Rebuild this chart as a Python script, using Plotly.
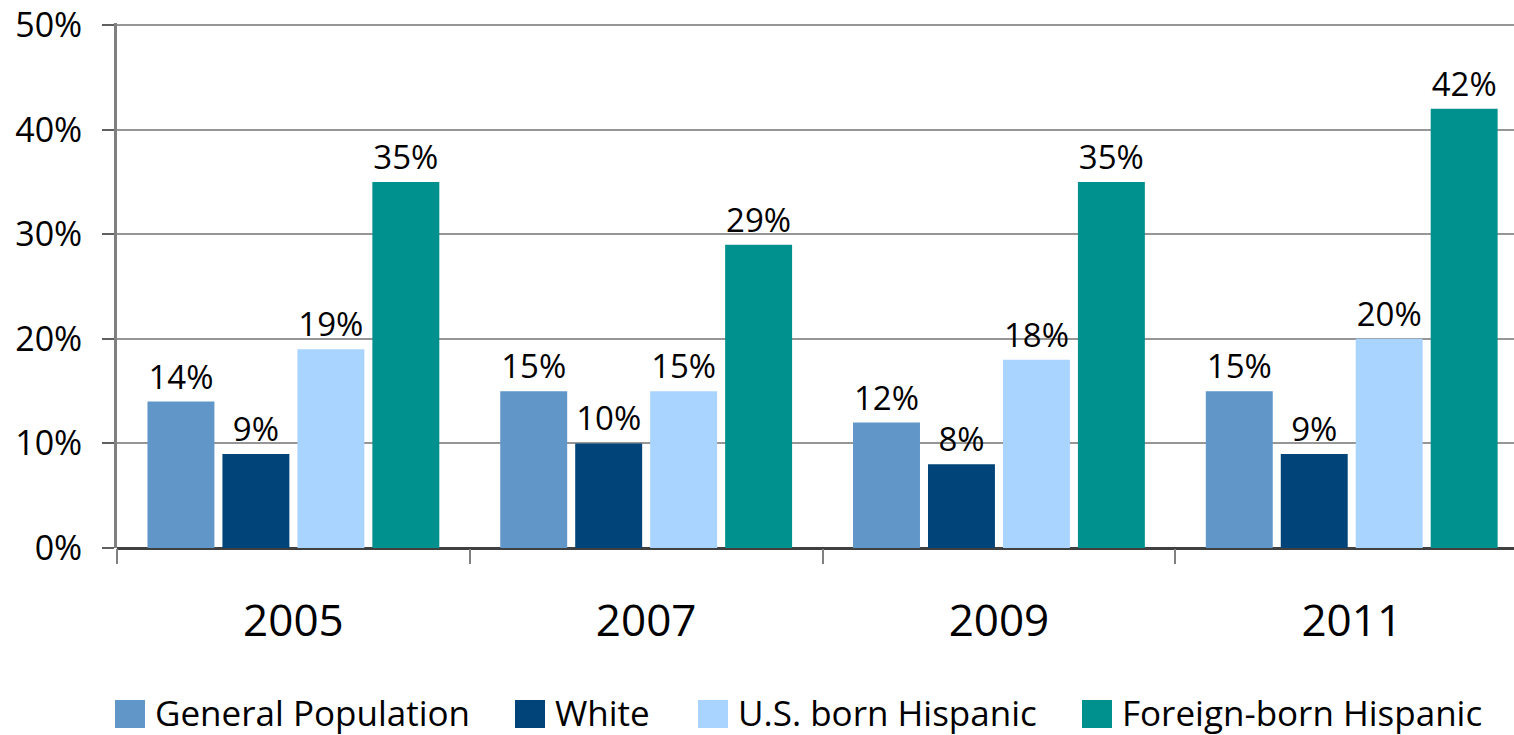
import plotly.graph_objects as go

years = ["2005", "2007", "2009", "2011"]
series_names = ["General Population", "White", "U.S. born Hispanic", "Foreign-born Hispanic"]
general_pop = [14, 15, 12, 15]
white = [9, 10, 8, 9]
us_born_hisp = [19, 15, 18, 20]
foreign_born_hisp = [35, 29, 35, 42]
colors = ["#6096C8", "#004479", "#A8D4FF", "#00918F"]
y_ticks = [0, 10, 20, 30, 40, 50]
y_tick_labels = [f"{v}%" for v in y_ticks]

# legend layout (page-pixel positions of swatch left edges)
legend_swatch_px = [115, 515, 698, 1082]

FONT = "Open Sans"
OFF = 0  # body margin removed by post_script
W, H = 1514 - OFF, 735 - OFF
Y_TOP = 50.2
PLOT_BOTTOM = 548 - OFF
PX_PER_UNIT = (548 - 25) / 50
ML, MR = 117 - OFF, 0
MT = round(PLOT_BOTTOM - Y_TOP * PX_PER_UNIT)
MB = H - PLOT_BOTTOM
PW, PH = W - ML - MR, H - MT - MB

fig = go.Figure()
for name, vals, col in zip(series_names, [general_pop, white, us_born_hisp, foreign_born_hisp], colors):
    fig.add_trace(go.Bar(
        x=years, y=vals, name=name, marker=dict(color=col, line=dict(width=0)),
        text=[f"{v}%" for v in vals], texttemplate="%{text}", textposition="outside",
        constraintext="none",
        textfont=dict(family=FONT, size=33, color="black"), cliponaxis=False,
    ))

# legend drawn as swatches + labels
sw = 30
def py(page_y):
    return -((page_y - OFF) - PLOT_BOTTOM) / PH
for name, col, px in zip(series_names, colors, legend_swatch_px):
    x0 = (px - OFF - ML) / PW
    x1 = (px - OFF + sw - ML) / PW
    fig.add_shape(type="rect", xref="paper", yref="paper", x0=x0, x1=x1,
                  y0=py(728), y1=py(700),
                  fillcolor=col, line=dict(width=0), layer="above")
    fig.add_annotation(xref="paper", yref="paper", x=(px - OFF + sw + 8 - ML) / PW, y=py(712),
                       xanchor="left", yanchor="middle", text=name, showarrow=False,
                       font=dict(family=FONT, size=35, color="black"))

fig.update_layout(
    width=W, height=H,
    margin=dict(l=ML, r=MR, t=MT, b=MB),
    paper_bgcolor="white", plot_bgcolor="white",
    barmode="group", bargap=0.15, bargroupgap=0.107,
    font=dict(family=FONT, color="black"),
    showlegend=False,
    xaxis=dict(type="category", range=[-0.5, 3.46], showgrid=False, automargin=False,
               ticks="outside", tickson="boundaries", ticklen=15, tickwidth=2, tickcolor="#808080",
               tickfont=dict(family=FONT, size=44, color="black"), ticklabelstandoff=43,
               showline=False, zeroline=False),
    yaxis=dict(range=[0, Y_TOP], tickvals=y_ticks, ticktext=y_tick_labels, automargin=False,
               ticklabeloverflow="allow",
               showgrid=True, gridcolor="#969696", gridwidth=2,
               zeroline=True, zerolinecolor="#404040", zerolinewidth=3,
               showline=True, linecolor="#808080", linewidth=3,
               ticks="outside", ticklen=12, tickwidth=2, tickcolor="#606060",
               tickfont=dict(family=FONT, size=34, color="black"), ticklabelstandoff=13),
)
fig.write_html("out.html", config={"displayModeBar": False},
               post_script="document.body.style.margin='0';document.body.style.overflow='hidden';")
